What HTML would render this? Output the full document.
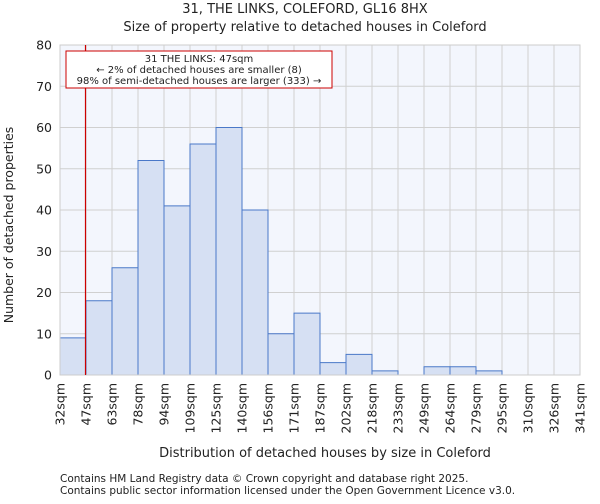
<!DOCTYPE html>
<html><head><meta charset="utf-8"><style>
body{margin:0;background:#fff;font-family:"DejaVu Sans","Liberation Sans",sans-serif;}
svg text{font-family:"DejaVu Sans","Liberation Sans",sans-serif;fill:#222;}
</style></head><body>
<svg id="c" width="600" height="500" xmlns="http://www.w3.org/2000/svg">
<text x="305" y="13" text-anchor="middle" font-size="13">31, THE LINKS, COLEFORD, GL16 8HX</text>
<text x="305" y="31" text-anchor="middle" font-size="13">Size of property relative to detached houses in Coleford</text>
<rect x="60" y="45" width="520" height="330" fill="#f3f6fd"/>
<g id="grid"></g><g id="bars"></g><g id="axes"></g>
<line x1="85.5" y1="45" x2="85.5" y2="375" stroke="#c00" stroke-width="1.2"/>
<rect x="66" y="51" width="266" height="37" fill="#fff" stroke="#c00" stroke-width="1"/>
<text x="199" y="62" text-anchor="middle" font-size="10">31 THE LINKS: 47sqm</text>
<text x="199" y="73" text-anchor="middle" font-size="10">← 2% of detached houses are smaller (8)</text>
<text x="199" y="84" text-anchor="middle" font-size="10">98% of semi-detached houses are larger (333) →</text>
<text x="325" y="457" text-anchor="middle" font-size="13">Distribution of detached houses by size in Coleford</text>
<text transform="translate(13,225) rotate(-90)" text-anchor="middle" font-size="12.5">Number of detached properties</text>
<text x="60" y="482" font-size="10.5" fill="#444">Contains HM Land Registry data © Crown copyright and database right 2025.</text>
<text x="60" y="494" font-size="10.5" fill="#444">Contains public sector information licensed under the Open Government Licence v3.0.</text>
</svg>
<script>
const binLabels=["32sqm","47sqm","63sqm","78sqm","94sqm","109sqm","125sqm","140sqm","156sqm","171sqm","187sqm","202sqm","218sqm","233sqm","249sqm","264sqm","279sqm","295sqm","310sqm","326sqm","341sqm"];
const counts=[9,18,26,52,41,56,60,40,10,15,3,5,1,0,2,2,1,0,0,0];
const yTicks=[0,10,20,30,40,50,60,70,80];
const NS="http://www.w3.org/2000/svg";
const x0=60,x1=580,y0=375,y1=45,yMax=80;
const nb=counts.length;
const xs=i=>x0+(x1-x0)*i/nb;
const ys=v=>y0-(y0-y1)*v/yMax;
function mk(t,a,p){const e=document.createElementNS(NS,t);for(const k in a)e.setAttribute(k,a[k]);p.appendChild(e);return e;}
const g=document.getElementById('grid'),b=document.getElementById('bars'),ax=document.getElementById('axes');
yTicks.forEach(v=>{
 const l=mk('line',{x1:x0,x2:x1,y1:ys(v),y2:ys(v),stroke:'#d0d0d0','stroke-width':1},g);
 
 
 const t=mk('text',{x:x0-8,y:ys(v)+4.5,'text-anchor':'end','font-size':12.5},ax);t.textContent=v;
 
 
});
binLabels.forEach((lab,i)=>{
 const l=mk('line',{x1:xs(i),x2:xs(i),y1:y1,y2:y0,stroke:'#d0d0d0','stroke-width':1},g);
 
 
 const t=mk('text',{transform:`translate(${xs(i)+4.5},${y0+8}) rotate(-90)`,'text-anchor':'end','font-size':12.5},ax);t.textContent=lab;
 
 
});
counts.forEach((c,i)=>{
 if(c<=0)return;
 const r=mk('rect',{x:xs(i),y:ys(c),width:xs(i+1)-xs(i),height:y0-ys(c),fill:'#d6e0f3',stroke:'#4a78c8','stroke-width':1},b);
 
 
});
const f=mk('rect',{x:x0,y:y1,width:x1-x0,height:y0-y1,fill:'none',stroke:'#ccc'},ax);


</script>
</body></html>
